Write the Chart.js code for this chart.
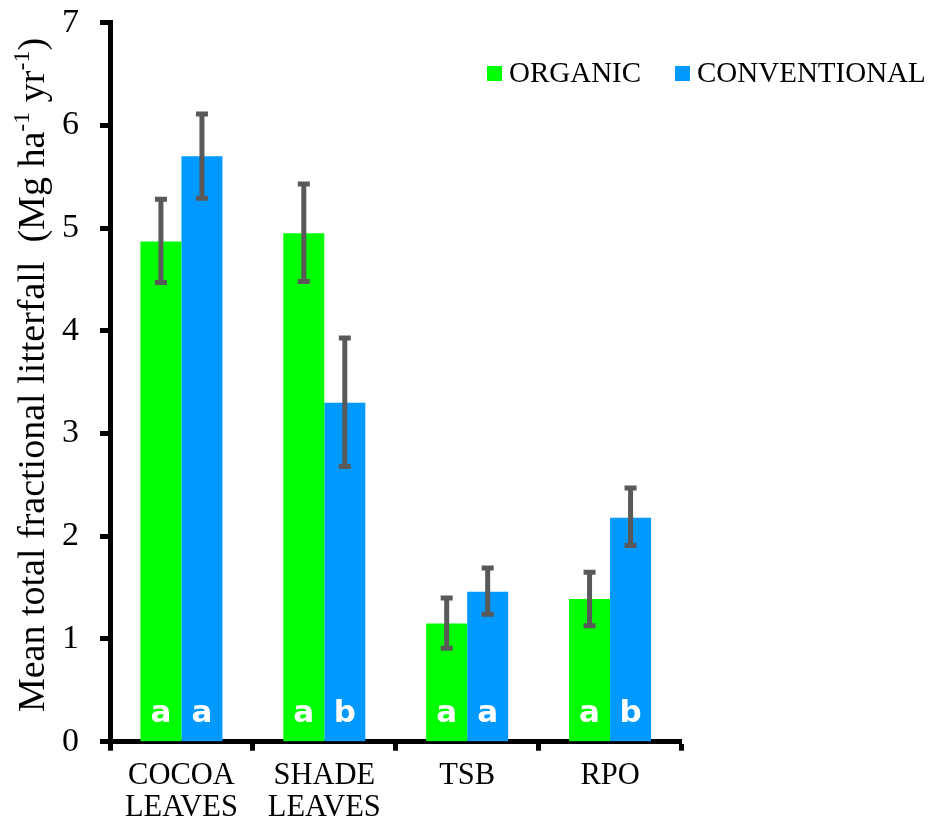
<!DOCTYPE html>
<html>
<head>
<meta charset="utf-8">
<script src="https://cdn.jsdelivr.net/npm/chart.js@4.4.1/dist/chart.umd.min.js"></script>
<style>
  html, body { margin: 0; padding: 0; background: #fff; }
  #wrap { position: relative; width: 934px; height: 825px; }
</style>
</head>
<body>
<div id="wrap"><canvas id="litterfall-chart"></canvas></div>
<script>
// litterfall fractions, Mg ha-1 yr-1
const categories = [["COCOA", "LEAVES"], ["SHADE", "LEAVES"], "TSB", "RPO"];
const organic = [4.87, 4.95, 1.15, 1.39];
const organicLow = [4.47, 4.48, 0.91, 1.13];
const organicHigh = [5.28, 5.43, 1.40, 1.65];
const conventional = [5.70, 3.30, 1.46, 2.18];
const conventionalLow = [5.29, 2.68, 1.24, 1.91];
const conventionalHigh = [6.11, 3.93, 1.69, 2.47];
const organicLetters = ["a", "a", "a", "a"];
const conventionalLetters = ["a", "b", "a", "b"];
const yMin = 0, yMax = 7, yStep = 1;

const serif = "'Liberation Serif', 'Times New Roman', serif";
const errColor = "#595959";

const errorBars = {
  id: "errorBars",
  afterDatasetsDraw(chart) {
    const ctx = chart.ctx;
    const y = chart.scales.y;
    chart.data.datasets.forEach((ds, i) => {
      const meta = chart.getDatasetMeta(i);
      meta.data.forEach((bar, j) => {
        const top = y.getPixelForValue(ds.errHigh[j]);
        const bot = y.getPixelForValue(ds.errLow[j]);
        ctx.save();
        ctx.strokeStyle = errColor;
        ctx.lineWidth = 5;
        ctx.beginPath();
        ctx.moveTo(bar.x, top);
        ctx.lineTo(bar.x, bot);
        ctx.moveTo(bar.x - 6, top);
        ctx.lineTo(bar.x + 6, top);
        ctx.moveTo(bar.x - 6, bot);
        ctx.lineTo(bar.x + 6, bot);
        ctx.stroke();
        ctx.restore();
      });
    });
  }
};

const barLetters = {
  id: "barLetters",
  afterDatasetsDraw(chart) {
    const ctx = chart.ctx;
    const base = chart.scales.y.getPixelForValue(0);
    chart.data.datasets.forEach((ds, i) => {
      chart.getDatasetMeta(i).data.forEach((bar, j) => {
        ctx.save();
        ctx.fillStyle = "#fff";
        ctx.font = "bold 31px 'DejaVu Sans', sans-serif";
        ctx.textAlign = "center";
        ctx.textBaseline = "alphabetic";
        ctx.fillText(ds.letters[j], bar.x, base - 20);
        ctx.restore();
      });
    });
  }
};

const sideLegend = {
  id: "sideLegend",
  afterDraw(chart) {
    const ctx = chart.ctx;
    const starts = [487, 675];
    ctx.save();
    ctx.font = "29px " + serif;
    ctx.textBaseline = "alphabetic";
    ctx.textAlign = "left";
    chart.data.datasets.forEach((ds, i) => {
      const x = starts[i];
      ctx.fillStyle = ds.backgroundColor;
      ctx.fillRect(x, 66, 15, 15);
      ctx.fillStyle = "#000";
      ctx.fillText(ds.label, x + 22, 82);
    });
    ctx.restore();
  }
};

const yTitle = {
  id: "yTitle",
  afterDraw(chart) {
    const ctx = chart.ctx;
    const parts = [
      { t: "Mean total fractional litterfall  (Mg ha" },
      { t: "-1", sup: true },
      { t: " yr" },
      { t: "-1", sup: true },
      { t: ")" }
    ];
    const big = "38px " + serif, small = "24px " + serif;
    ctx.save();
    let w = 0;
    parts.forEach(p => { ctx.font = p.sup ? small : big; p.w = ctx.measureText(p.t).width; w += p.w; });
    ctx.translate(44, 375);
    ctx.rotate(-Math.PI / 2);
    ctx.fillStyle = "#000";
    ctx.textBaseline = "alphabetic";
    ctx.textAlign = "left";
    let x = -w / 2;
    parts.forEach(p => {
      ctx.font = p.sup ? small : big;
      ctx.fillText(p.t, x, p.sup ? -15 : 0);
      x += p.w;
    });
    ctx.restore();
  }
};

new Chart(document.getElementById("litterfall-chart"), {
  type: "bar",
  data: {
    labels: categories,
    datasets: [
      {
        label: "ORGANIC",
        data: organic,
        errLow: organicLow,
        errHigh: organicHigh,
        letters: organicLetters,
        backgroundColor: "#00FF00",
        borderWidth: 0
      },
      {
        label: "CONVENTIONAL",
        data: conventional,
        errLow: conventionalLow,
        errHigh: conventionalHigh,
        letters: conventionalLetters,
        backgroundColor: "#0099FF",
        borderWidth: 0
      }
    ]
  },
  options: {
    responsive: true,
    maintainAspectRatio: false,
    animation: false,
    layout: { padding: { top: 22.7, right: 252.5, bottom: 0, left: 0 } },
    datasets: { bar: { barPercentage: 1, categoryPercentage: 0.574 } },
    plugins: {
      legend: { display: false },
      tooltip: { enabled: false },
      title: { display: false }
    },
    scales: {
      x: {
        grid: {
          offset: true,
          drawOnChartArea: false,
          drawTicks: true,
          tickLength: 9,
          tickWidth: 5,
          tickColor: "#000"
        },
        border: { display: true, color: "#000", width: 5 },
        ticks: {
          color: "#000",
          padding: 9,
          maxRotation: 0,
          autoSkip: false,
          font: { family: serif, size: 30.5, lineHeight: 1.06 }
        },
        afterFit(scale) { scale.height = 83.3; }
      },
      y: {
        min: yMin,
        max: yMax,
        grid: {
          drawOnChartArea: false,
          drawTicks: true,
          tickLength: 10,
          tickWidth: 5,
          tickColor: "#000"
        },
        border: { display: true, color: "#000", width: 5 },
        ticks: {
          stepSize: yStep,
          color: "#000",
          padding: 21,
          font: { family: serif, size: 34 }
        },
        afterFit(scale) {
          scale.width = 110;
          scale.paddingTop = 0;
          scale.paddingBottom = 0;
        }
      }
    }
  },
  plugins: [barLetters, errorBars, sideLegend, yTitle]
});
</script>
</body>
</html>
